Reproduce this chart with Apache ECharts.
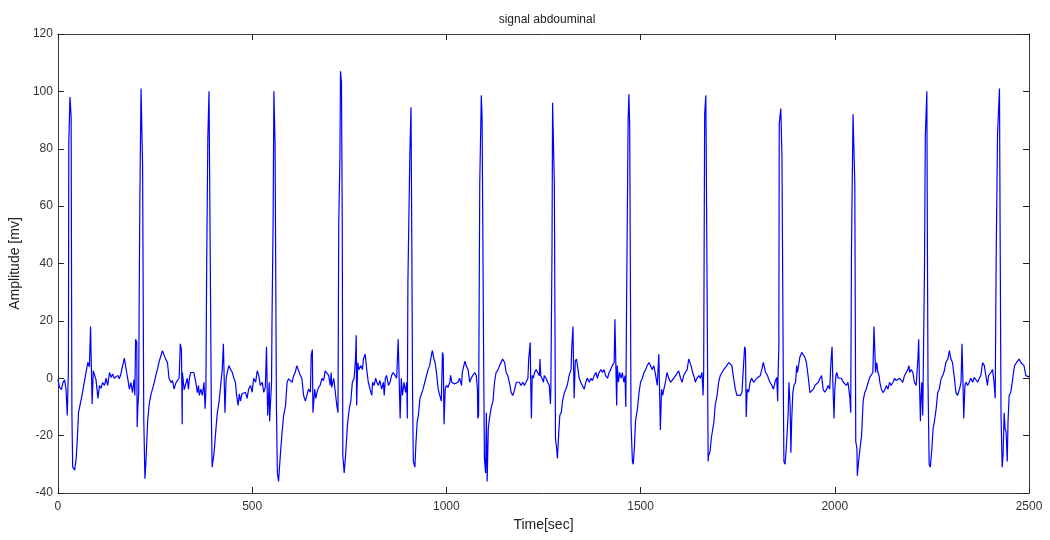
<!DOCTYPE html>
<html>
<head>
<meta charset="utf-8">
<title>signal abdouminal</title>
<script src="https://cdn.jsdelivr.net/npm/echarts@6/dist/echarts.min.js"></script>
<style>
  html, body { margin: 0; padding: 0; background: #ffffff; }
  #chart { width: 1050px; height: 540px; }
</style>
</head>
<body>
<div id="chart"></div>
<script>
// Abdominal ECG recording, [time, amplitude] samples split into consecutive spans.
const span0000 = [
  [0,-0.5],[4,-3],[9,-4],[13,-1.5],[17,-0.5],[21,-4],[24,-13],[27,3],[28,82],[31,98],[32,96],[34,91],
  [36,-12],[38,-31],[43,-32],[47,-28],[50,-21],[53,-12],[56,-10],[60,-9.5],[62,-6],[67,-6.5],[69,-0.5],
  [74,0],[77,5.5],[81,4],[84,18],[86,18.5],[88,-9],[91,2.6],[94,2],[98,-0.5],[103,-7],[107,-2.5],
  [111,-3.5],[115,-1.5],[120,-2.5],[124,0],[128,-2.5],[133,2],[137,0.3],[141,1.5],[145,0],[150,0.5],
  [154,1],[158,-0.2],[162,1.5],[167,1],[171,7],[174,7],[177,2],[180,-0.3],[184,-3.8],[188,-1.5],
  [192,-5],[196,-0.5],[198,-6],[200,13.6],[203,12.5],[204,-17],[206,-9.5],[208,-5],[209,23],[211,63],
  [214,101],[216,101],[218,74],[220,74],[221,-14],[224,-35],[227,-28],[231,-15],[235,-9],[239,-6],
  [244,-5.5],[248,-1.5],[252,1],[256,3],[261,6],[265,6],[269,9.6],[274,10],[278,6.5],[282,5.5],
  [286,0],[291,-1.5],[295,-0.8],[299,-3.8],[304,-1.5],[308,-1.5],[312,0],[315,12],[318,10],[320,-16]
];
const span0320 = [
  [320.5,2],[325,-4],[329,-3.8],[333,0],[336,-3.8],[338.5,0],[342,2],[346,2.6],[350,2],[355,-1.4],
  [359,-5],[362,-2.5],[364,-6],[368,-3.8],[372,-6],[376,-1.4],[379,-10.6],[381,-3.8],[383,40],[386,84],
  [389,100],[391,100],[392,45],[393,45],[395,-12],[397,-31],[402,-26],[406,-19],[410,-12.5],[415,-8],
  [419,-2.5],[423,3],[426,12],[428,12.5],[430,-12],[433,0],[436,2],[440,4.4],[445,3],[449,2],[453,0],
  [457,-1.4],[460,-6],[464,-9.5],[467,-5.4],[470,-8],[474,-5.4],[479,-5.4],[483,-4.9],[487,-7],
  [491,-3.8],[496,-2.5],[500,-4.9],[504,0],[509,-1.4],[513,2.6],[517,1],[521,-2.5],[526,-1.4],
  [530,-4.9],[534,-3.2],[537,11],[540,-13],[544,-1.4],[545,-15],[550,-1.4],[551,18],[554,55],[556,100],
  [557,100],[559,82],[562,82],[562.5,-9.5],[565,-33],[568,-36],[573,-26],[577,-19],[581,-13],[586,-9.5],
  [590,-1.4],[594,-0.2],[598,0.3],[603,-1.4],[607,1],[611,2],[615,4.4],[620,3.8],[624,1],[628,0]
];
const span0630 = [
  [632.5,-6],[637,-8],[641,-6],[645,-3.8],[650,-4.9],[652,8],[655,10],[656.5,-12],[658,-12],[661,-3.8],
  [664,-7],[667,-4.9],[671,-3.2],[675,-2.5],[680,0],[684,-0.8],[688,2.6],[692,2],[697,1],[701,-2.5],
  [703.5,2],[705,-3.2],[710,0],[714,0],[718,-9.5],[721,-12],[723,54],[726,77],[727.5,107],[730,103],
  [732,54],[733.5,-27],[737,-33],[741,-26],[745.5,-16],[750,-10.6],[754,-8],[758,-1.4],[762.5,0],
  [766,6.7],[768,15],[769,-9.5],[772,5.5],[775,3],[780,4.4],[784,3],[786.5,6.7],[791,8.4],[795,3],
  [799,-1.4],[803.5,-3.8],[808,-6],[810,-1.4],[814,-2.5],[818,0],[821,-1.4],[825,-2.5],[829,-0.8],
  [833.5,-3.8],[838,-1.4],[840,-6],[843,0],[846,1],[851,-2.5],[855,-1.4],[859,1],[863,2],[868,1],
  [872,0],[876,13.6],[879,13.6],[881,-14],[884,0],[887,-6],[891,-1.4],[895,-4.9],[898,-1.4],
  [899.5,-14],[901,33],[904,33],[906,78],[909,94.5],[911,49],[913,-5],[915,-29],[919,-31],
  [921.5,-23],[925,-15],[928,-13],[932,-7],[936,-5.5]
];
const span0940 = [
  [940,-3.8],[944.5,-1.4],[949,1],[953,3],[957,4.4],[962,8.4],[964,9.6],[968,6.7],[971,5.5],
  [974.5,2],[979,-3.8],[983,-6],[987,-8],[990,9],[992,7.8],[994,-16],[997,-3.8],[1000,-2.5],
  [1004,-3.2],[1009,-1.4],[1011,1],[1014,-1.4],[1017,-0.8],[1021,-2],[1026,-1.4],[1030,-1.4],
  [1034,0],[1039,-2.5],[1041,2],[1045,4.4],[1048,6],[1051,4.4],[1056,3],[1060,-1.4],[1064,0],
  [1068,1],[1073,2],[1077,1],[1080,-3.8],[1081,-14],[1083,-13],[1086,68],[1088,68],[1090,98.6],
  [1092,91],[1094,91],[1096,6.7],[1098,-28],[1099,-28],[1101,-33],[1103,-12],[1105,-36],[1108,-17.6],
  [1111,-14],[1115,-10.6],[1120,-8],[1124,-1.4],[1128,2],[1133,3],[1137,4.4],[1141,4.4],[1145,6.7],
  [1150,5.5],[1154,2],[1158,1],[1163,-2],[1167,-5],[1171,-6],[1175,-4.3],[1180,-1.4],[1184,-2],
  [1188,-1.4],[1192,-2.5],[1197,-1.4],[1201,-2.5],[1205,-1.4],[1210,0],[1212,6.7],[1216,12.5],
  [1217,0],[1219,-14],[1221,1],[1224,0],[1227,2]
];
const span1230 = [
  [1231,3],[1235,2],[1239.5,0.9],[1241,6.7],[1243,0.9],[1246,0],[1250,-1.4],[1252,0.9],[1256.5,0],
  [1261,-1.4],[1265,-2.5],[1268,-9],[1269,-3.8],[1272,45],[1273.5,96],[1276,96],[1278,68],[1280,68],
  [1281,-21],[1284,-24.5],[1286,-28],[1289,-20],[1292,-13],[1296,-11.8],[1299,-8],[1304,-5],
  [1308,-3.8],[1312,-2],[1316,0.9],[1321,3],[1323,11],[1326,18],[1327.5,4.4],[1329,-7],[1332,6],
  [1335,6.7],[1339,3],[1342,0],[1346,-1.4],[1351,-2],[1355,-3.8],[1359,-1.4],[1363,0],[1368,-1.4],
  [1372,0],[1376,-0.8],[1380.5,0.9],[1385,2],[1389,0],[1393,2],[1398,3],[1402,2],[1406,3],[1410,0.9],
  [1415,0],[1419,2],[1423,3],[1427,4.4],[1432,5.5],[1434,20.6],[1437,20.6],[1438.5,-9.5],[1440,4.4],
  [1443,-1.4],[1446,2],[1450,0],[1453,2],[1457,-1.4],[1460,0.9],[1462,-10],[1464,26],[1466,26],
  [1468,90],[1470,99],[1472,87.6],[1474,87.6],[1475.5,-16],[1479,-29],[1481,-30],[1484,-24.5],
  [1487,-15],[1492,-10.6],[1496,-5],[1500,-1.4],[1504.5,0],[1509,2],[1513,3],[1517,4.4],[1522,5.5],
  [1526,6],[1530,3],[1534,4.4],[1539,0.9],[1543,-2.5],[1547,8.4],[1550,8.4],[1551,-18]
];
const span1554 = [
  [1554,-3.8],[1557,-6],[1560,-3.8],[1564,-1.4],[1568,2],[1573,-0.2],[1577,-1.4],[1581,-1.4],
  [1585.5,0],[1590,0.9],[1594,0.9],[1598,2.6],[1603,0],[1607,-1.4],[1611,0.9],[1615,2],[1620,3],
  [1624,6.7],[1627,7.3],[1630,4.4],[1634,2],[1639,0],[1641,-1.4],[1645,0],[1650,0.9],[1654,0],
  [1658,2],[1661,-6],[1662.5,3],[1665,92],[1668,98.6],[1669,80.7],[1671,80.7],[1674,-29],[1675,-27],
  [1679,-25.5],[1682,-21],[1686,-17.6],[1689,-15],[1692,-9.5],[1697,-6],[1701,-1.4],[1705,0.9],
  [1709.5,2],[1714,3],[1718,3],[1722,4.4],[1727,5.5],[1731,6],[1735,4.4],[1739.5,0],[1744,-3.8],
  [1748,-6],[1752,-5.4],[1757,-6],[1761,-4.9],[1765,4.4],[1768,11],[1770,10],[1772,-13.5],
  [1774.5,-3.8],[1778,-4.9],[1782,-1.4],[1786,0],[1791,-1.4],[1795,-0.8],[1799,0],[1804,0],
  [1808,0.9],[1812,3],[1816,5.5],[1819,5.5],[1822,2],[1827,0.9],[1829,0],[1833,-1.4],[1838,-2.5],
  [1842,-3.8],[1846,-1.4],[1850.5,0.3],[1853,-8]
];
const span1854 = [
  [1854,0.9],[1856,11],[1857,88.8],[1861,94],[1862,93.5],[1864,77],[1866,77],[1868,-12],[1869,-29],
  [1872,-30],[1874,-26.6],[1877,-20],[1880,-12],[1882,-1.4],[1885,-9.5],[1887,-26],[1889,-15],
  [1892,-5],[1895,-2.5],[1899,-1.4],[1902,4.4],[1904,2],[1908,5.5],[1910,7.3],[1915,9],[1919,8.4],
  [1923,7.3],[1927,5.5],[1932,0],[1936,-5],[1940,-5.4],[1945,-3.8],[1949,-2.5],[1953,-2.5],
  [1957.5,-1.4],[1962,0],[1966,0.9],[1970,-3.8],[1974,-4.9],[1979,-3.8],[1983,-2.5],[1987,-3.8],
  [1990,5.5],[1993,11],[1995,-1.4],[1998,-14],[2000,-3.8],[2003,0.9],[2005,2],[2009,0],[2013,0],
  [2017,0],[2022,-1.4],[2026,-1.4],[2030,-2.5],[2034,-1.4],[2039,-7],[2041,-12],[2043,45],
  [2045.5,45],[2047,92],[2050,92.5],[2051.5,68],[2054,-22],[2057,-24.5],[2058,-34],[2062,-28],
  [2065,-24.5],[2069,-20],[2073,-8],[2077,-5],[2081,-3.8],[2086,-1.4],[2090,0.3],[2094,0.9],[2098,2],
  [2101,18],[2104,18],[2105,2],[2108,5.5],[2111,2],[2114,0.9],[2116,-1.4],[2120,-3.8],[2124,-5],
  [2128,-4.3],[2133,-2.5],[2137,-3.8],[2141,-1.4],[2145,-2.5],[2150,-1.4],[2154,0],[2158,-0.8],
  [2163,-1.4],[2167,0]
];
const span2170 = [
  [2171,0],[2175,-1.4],[2179.5,0.9],[2184,2],[2188,3],[2191,4.4],[2193,2],[2197,3],[2201,2],
  [2205,-1.4],[2209.5,-2.5],[2214,6.7],[2216,13.6],[2218,-1.4],[2220.5,-15],[2222,-7],[2224,-1.4],
  [2226.5,-13],[2229,-13],[2231,39],[2233,84],[2235,84],[2237,100],[2238.5,45],[2240,-1.4],[2243,-30],
  [2246,-31],[2250,-24.5],[2253,-17.6],[2256.5,-15],[2261,-10.6],[2265,-5],[2269,-3.8],[2274,0],
  [2278,0.9],[2282,2.6],[2286,5.5],[2291,6.7],[2295,9.6],[2299,6.7],[2303,5.5],[2308,0],[2312,-5],
  [2316,-6],[2321,-3.8],[2325,-1.4],[2327.5,12],[2330,-1.4],[2332,-14],[2335,-2.5],[2338,-1.4],
  [2342,-2.5],[2346,-1.4],[2350,0],[2355,-1.4],[2359,0.3],[2363,0],[2368,-1.4],[2372,0],[2376,0.9],
  [2380.5,5.5],[2385,4.4],[2389,0.9],[2393,-2.5],[2396,0.9],[2399,0.9],[2402,2],[2406,3],[2410,-1.4],
  [2413,-7],[2415.5,42.5],[2419,85],[2421.5,85],[2424,101],[2426,41.4],[2428,-13],[2431,-31],
  [2433.5,-26],[2436,-12],[2438.5,-17.6],[2441,-18.7],[2444,-29],[2446,-15],[2449,-6],[2453,-4.9],
  [2457,-1.4],[2460,2],[2463,4.4],[2468,5.5],[2472,5.5],[2474.5,6.7],[2479,5.5],[2483,5.5],
  [2487,4.4],[2492,0.9],[2496,0.3],[2500,0.5]
];

const xTicks = [0, 500, 1000, 1500, 2000, 2500];
const yTicks = [-40, -20, 0, 20, 40, 60, 80, 100, 120];

const signal = [].concat(span0000, span0320, span0630, span0940, span1230,
                         span1554, span1854, span2170);

const font = 'Liberation Sans, Arial, Helvetica, sans-serif';
const frame = { lineStyle: { color: '#3a3a3a', width: 1 } };
const innerTick = { show: true, inside: true, length: 6, lineStyle: { color: '#222', width: 1 } };
const plainNumber = (v) => String(v);

const chart = echarts.init(document.getElementById('chart'), null, { renderer: 'canvas' });
chart.setOption({
  animation: false,
  backgroundColor: '#ffffff',
  title: {
    text: 'signal abdouminal',
    left: 542, top: 9, textAlign: 'center',
    textStyle: { fontFamily: font, fontSize: 12, fontWeight: 'normal', color: '#222' }
  },
  grid: { left: 55, right: 21, top: 34, bottom: 47, containLabel: false },
  xAxis: [{
    type: 'value', position: 'bottom',
    min: xTicks[0], max: xTicks[xTicks.length - 1], interval: 500,
    name: 'Time[sec]', nameLocation: 'middle', nameGap: 25,
    nameTextStyle: { fontFamily: font, fontSize: 14, color: '#222' },
    axisLine: { show: true, onZero: false, ...frame },
    axisTick: innerTick,
    axisLabel: { fontFamily: font, fontSize: 12, color: '#333', margin: 8, formatter: plainNumber },
    splitLine: { show: false }
  }, {
    type: 'value', position: 'top',
    min: xTicks[0], max: xTicks[xTicks.length - 1], interval: 500,
    axisLine: { show: true, onZero: false, ...frame },
    axisTick: innerTick,
    axisLabel: { show: false },
    splitLine: { show: false }
  }],
  yAxis: [{
    type: 'value', position: 'left',
    min: yTicks[0], max: yTicks[yTicks.length - 1], interval: 20,
    name: 'Amplitude [mv]', nameLocation: 'middle', nameGap: 32, nameRotate: 90,
    nameTextStyle: { fontFamily: font, fontSize: 14, color: '#222' },
    axisLine: { show: true, onZero: false, ...frame },
    axisTick: innerTick,
    axisLabel: { fontFamily: font, fontSize: 12, color: '#333', margin: 5, formatter: plainNumber },
    splitLine: { show: false }
  }, {
    type: 'value', position: 'right',
    min: yTicks[0], max: yTicks[yTicks.length - 1], interval: 20,
    axisLine: { show: true, onZero: false, ...frame },
    axisTick: innerTick,
    axisLabel: { show: false },
    splitLine: { show: false }
  }],
  series: [{
    type: 'line',
    xAxisIndex: 0, yAxisIndex: 0,
    data: signal,
    showSymbol: false,
    symbol: 'none',
    lineStyle: { color: '#0000ff', width: 1.2 },
    itemStyle: { color: '#0000ff' }
  }]
});
</script>
</body>
</html>
